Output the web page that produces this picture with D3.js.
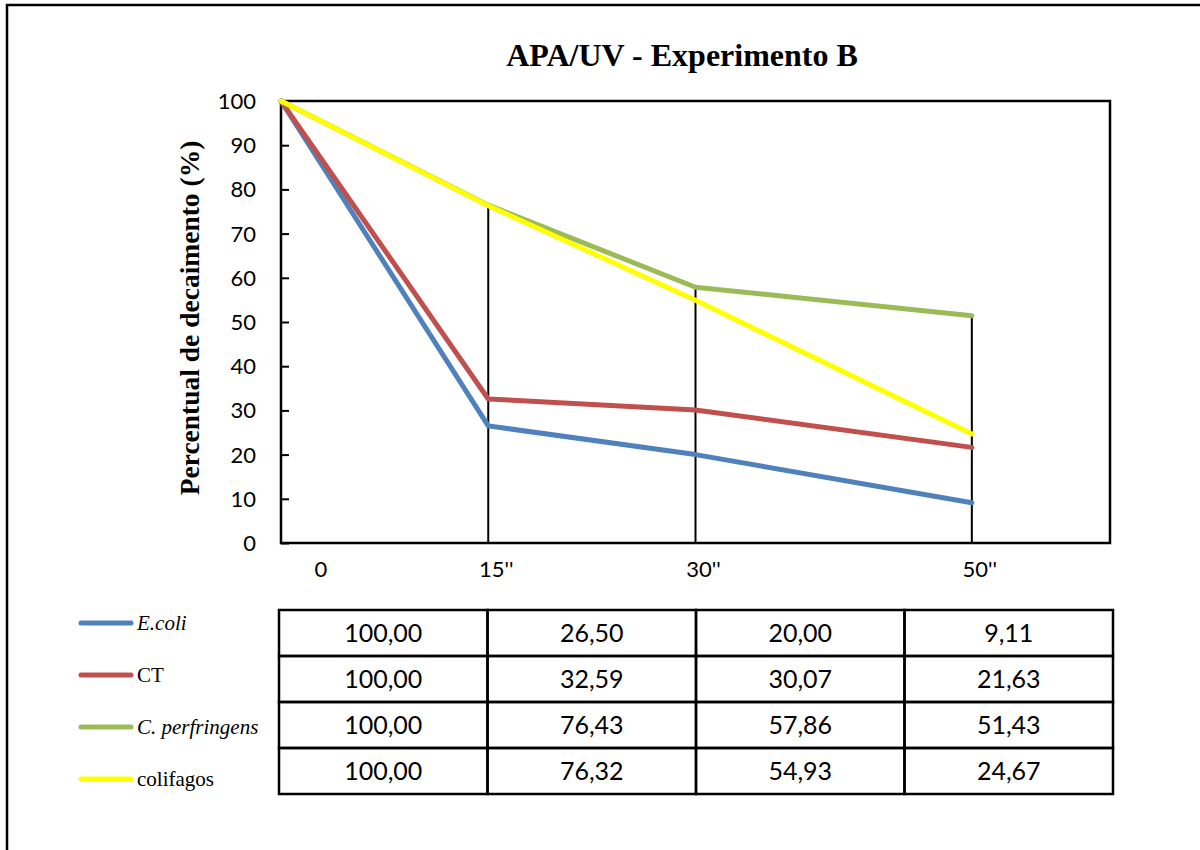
<!DOCTYPE html>
<html>
<head>
<meta charset="utf-8">
<script src="https://cdn.jsdelivr.net/npm/d3@7"></script>
<style>
  html, body { margin: 0; padding: 0; background: #fff; }
  svg { display: block; }
</style>
</head>
<body>
<svg id="chart" width="1200" height="850"></svg>
<script>
// Exposure times (seconds) and their axis labels
const times = [0, 15, 30, 50];
const timeLabels = ["0", "15''", "30''", "50''"];

// Series names and decay percentages
const seriesNames = ["E.coli", "CT", "C. perfringens", "colifagos"];
const ecoli = [100.00, 26.50, 20.00, 9.11];
const ct = [100.00, 32.59, 30.07, 21.63];
const cperf = [100.00, 76.43, 57.86, 51.43];
const colifagos = [100.00, 76.32, 54.93, 24.67];
const seriesColors = ["#4F81BD", "#C0504D", "#9BBB59", "#FFFF00"];
const italicNames = [true, false, true, false];

const yTicks = [0, 10, 20, 30, 40, 50, 60, 70, 80, 90, 100];

const title = "APA/UV - Experimento B";
const yTitle = "Percentual de decaimento (%)";

const seriesValues = [ecoli, ct, cperf, colifagos];
const series = seriesNames.map((name, i) => ({
  name, color: seriesColors[i], italic: italicNames[i],
  values: times.map((t, j) => ({ t, v: seriesValues[i][j] }))
}));

const svg = d3.select("#chart");
const numFont = "Lato, 'Open Sans', sans-serif";
const serif = "'Liberation Serif', 'Times New Roman', serif";

// Outer chart frame
svg.append("rect")
  .attr("x", 7).attr("y", 5).attr("width", 1210).attr("height", 900)
  .attr("fill", "none").attr("stroke", "#000").attr("stroke-width", 2.5);

// Scales
const plot = { left: 281, right: 1110, top: 101, bottom: 543 };
const x = d3.scaleLinear().domain([0, 60]).range([plot.left, plot.right]);
const y = d3.scaleLinear().domain([0, 100]).range([plot.bottom, plot.top]);

// Title
svg.append("text")
  .attr("x", 682).attr("y", 66)
  .attr("text-anchor", "middle")
  .attr("font-family", serif).attr("font-weight", "bold")
  .attr("font-size", 32)
  .text(title);

// Y axis title
svg.append("text")
  .attr("transform", `translate(199, ${(plot.top + plot.bottom) / 2 - 4}) rotate(-90)`)
  .attr("text-anchor", "middle")
  .attr("font-family", serif).attr("font-weight", "bold")
  .attr("font-size", 27.5)
  .text(yTitle);

// Y axis with inward ticks
const yAxis = svg.append("g")
  .attr("transform", `translate(${plot.left},0)`)
  .call(d3.axisRight(y).tickValues(yTicks).tickSize(8).tickFormat(""));
yAxis.select(".domain").remove();
yAxis.selectAll("line").attr("stroke", "#000").attr("stroke-width", 2);

svg.append("g").selectAll("text")
  .data(yTicks).join("text")
  .attr("x", 256).attr("y", d => y(d))
  .attr("dy", "0.36em")
  .attr("text-anchor", "end")
  .attr("font-family", numFont).attr("font-size", 22)
  .attr("fill", "#000")
  .text(d => d);

// X tick labels
svg.append("g").selectAll("text")
  .data(times).join("text")
  .attr("x", (d, i) => x(d) + (i === 0 ? 40 : 8))
  .attr("y", 577)
  .attr("text-anchor", "middle")
  .attr("font-family", numFont).attr("font-size", 22)
  .attr("fill", "#000")
  .text((d, i) => timeLabels[i]);

// Drop lines from the highest point of each time down to the axis
const dropTimes = times.slice(1);
svg.append("g").selectAll("line")
  .data(dropTimes).join("line")
  .attr("x1", d => x(d)).attr("x2", d => x(d))
  .attr("y1", d => y(d3.max(series, s => s.values.find(p => p.t === d).v)))
  .attr("y2", y(0))
  .attr("stroke", "#000").attr("stroke-width", 2);

// Plot area border
svg.append("rect")
  .attr("x", plot.left).attr("y", plot.top)
  .attr("width", plot.right - plot.left).attr("height", plot.bottom - plot.top)
  .attr("fill", "none").attr("stroke", "#000").attr("stroke-width", 2.5);

// Series lines
const line = d3.line().x(d => x(d.t)).y(d => y(d.v));
svg.append("g").selectAll("path")
  .data(series).join("path")
  .attr("d", d => line(d.values))
  .attr("fill", "none")
  .attr("stroke", d => d.color)
  .attr("stroke-width", 5)
  .attr("stroke-linejoin", "round")
  .attr("stroke-linecap", "round");

// Data table
const col = d3.scaleBand().domain(times).range([279, 1113]);
const row = d3.scaleBand().domain(seriesNames).range([610, 794]);
const table = svg.append("g");
series.forEach(s => {
  s.values.forEach(p => {
    table.append("rect")
      .attr("x", col(p.t)).attr("y", row(s.name))
      .attr("width", col.bandwidth()).attr("height", row.bandwidth())
      .attr("fill", "none").attr("stroke", "#000").attr("stroke-width", 2.5);
    table.append("text")
      .attr("x", col(p.t) + col.bandwidth() / 2)
      .attr("y", row(s.name) + row.bandwidth() / 2)
      .attr("dy", "0.36em")
      .attr("text-anchor", "middle")
      .attr("font-family", numFont).attr("font-size", 25)
      .attr("fill", "#000")
      .text(d3.format(".2f")(p.v).replace(".", ","));
  });
});

// Legend keys beside the table rows
const legendY = d3.scalePoint().domain(seriesNames).range([623, 779]);
const legend = svg.append("g").selectAll("g")
  .data(series).join("g")
  .attr("transform", d => `translate(0, ${legendY(d.name)})`);
legend.append("line")
  .attr("x1", 81).attr("x2", 131)
  .attr("stroke", d => d.color).attr("stroke-width", 5)
  .attr("stroke-linecap", "round");
legend.append("text")
  .attr("x", 137).attr("y", 7)
  .attr("font-family", serif).attr("font-size", 21)
  .attr("font-style", d => d.italic ? "italic" : "normal")
  .attr("fill", "#000")
  .text(d => d.name);
</script>
</body>
</html>
